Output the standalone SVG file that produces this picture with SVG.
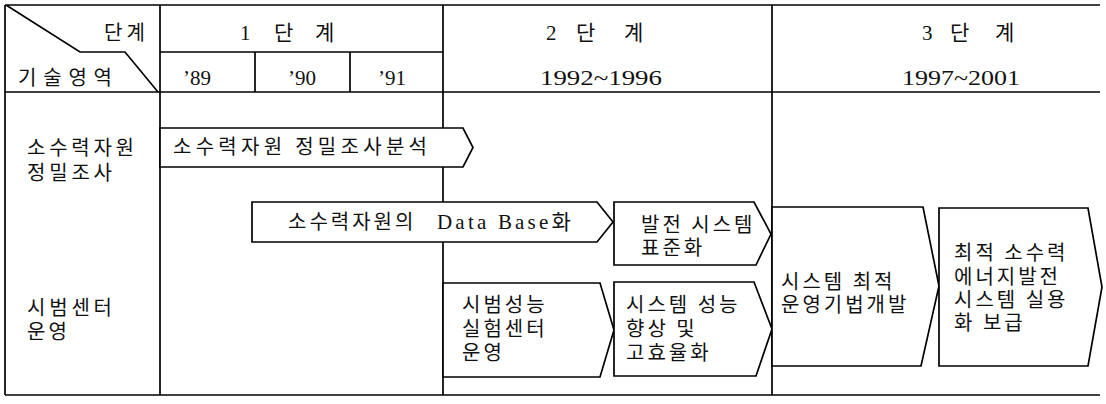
<svg xmlns="http://www.w3.org/2000/svg" width="1106" height="404" viewBox="0 0 1106 404">
<style>
.ln{stroke:#000;stroke-width:1.7;fill:none}
.bx{stroke:#000;stroke-width:1.7;fill:#fff;stroke-linejoin:miter}
.t{font-family:"Liberation Serif","Noto Sans CJK KR",serif;font-size:21px;fill:#111}
.k{font-family:"Noto Sans CJK KR","Liberation Sans",sans-serif;font-size:20px;fill:#111;letter-spacing:3px}
</style>
<rect width="1106" height="404" fill="#fff"/>
<g id="table">
  <path class="ln" d="M5 5H1100 M5 92H1100 M5 395H1100 M5 5V395 M160 5V395 M443 5V395 M772 5V395 M160 52H443 M255 52V92 M350 52V92 M6 5L80 52H125L158 92"/>
</g>
<g id="header-text">
  <text class="k" x="104" y="40" textLength="44">단계</text>
  <text class="t" y="40"><tspan x="240">1</tspan><tspan x="274">단</tspan><tspan x="315">계</tspan></text>
  <text class="k" x="18" y="85" textLength="97">기술영역</text>
  <text class="t" x="183" y="85">’89</text>
  <text class="t" x="288" y="85">’90</text>
  <text class="t" x="378" y="85">’91</text>
  <text class="t" y="40"><tspan x="546">2</tspan><tspan x="576">단</tspan><tspan x="624">계</tspan></text>
  <text class="t" x="540" y="85" textLength="122" lengthAdjust="spacingAndGlyphs">1992~1996</text>
  <text class="t" y="40"><tspan x="922">3</tspan><tspan x="950">단</tspan><tspan x="995">계</tspan></text>
  <text class="t" x="902" y="85" textLength="118" lengthAdjust="spacingAndGlyphs">1997~2001</text>
</g>
<g id="row-labels">
  <text class="k" x="27" y="155" textLength="110">소수력자원</text>
  <text class="k" x="27" y="180" textLength="88">정밀조사</text>
  <text class="k" x="27" y="315" textLength="88">시범센터</text>
  <text class="k" x="27" y="339">운영</text>
</g>
<g id="connectors"></g>
<g id="survey">
  <polygon class="bx" points="160,128 463,128 473,147.5 463,167 160,167"/>
  <text class="k" x="173" y="154" textLength="257">소수력자원 정밀조사분석</text>
</g>
<g id="database">
  <polygon class="bx" points="252,202 597,202 613,222 597,242 252,242"/>
  <text class="k" x="288" y="229">소수력자원의</text>
  <text class="t" x="437" y="229" font-size="20" letter-spacing="3.2">Data Base화</text>
</g>
<g id="standard">
  <polygon class="bx" points="614,202 754,202 771,234 756,265 614,265"/>
  <text class="k" x="641" y="232">발전 시스템</text>
  <text class="k" x="641" y="255">표준화</text>
</g>
<g id="testcenter">
  <polygon class="bx" points="443,283 600,283 614,330 600,377 443,377"/>
  <text class="k" x="462" y="312">시범성능</text>
  <text class="k" x="462" y="336">실험센터</text>
  <text class="k" x="462" y="360">운영</text>
</g>
<g id="performance">
  <polygon class="bx" points="614,282 754,282 772,329 756,376 614,376"/>
  <text class="k" x="626" y="312">시스템 성능</text>
  <text class="k" x="626" y="336">향상 및</text>
  <text class="k" x="626" y="360">고효율화</text>
</g>
<g id="operation">
  <polygon class="bx" points="772,207 923,207 939,286 921,366 772,366"/>
  <text class="k" x="781" y="289">시스템 최적</text>
  <text class="k" x="781" y="312">운영기법개발</text>
</g>
<g id="deployment">
  <polygon class="bx" points="939,208 1088,208 1102,287 1088,366 939,366"/>
  <text class="k" x="954" y="260">최적 소수력</text>
  <text class="k" x="954" y="284">에너지발전</text>
  <text class="k" x="954" y="307">시스템 실용</text>
  <text class="k" x="954" y="330">화 보급</text>
</g>
</svg>
